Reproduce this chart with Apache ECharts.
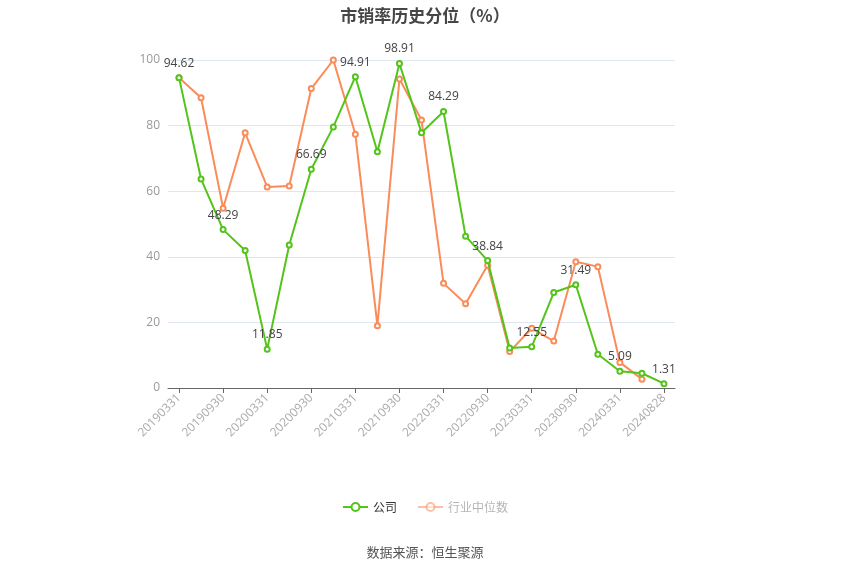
<!DOCTYPE html>
<html>
<head>
<meta charset="utf-8">
<script src="https://cdn.jsdelivr.net/npm/echarts@6/dist/echarts.min.js"></script>
<style>html,body{margin:0;padding:0;background:#fff}#c{width:850px;height:575px}</style>
</head>
<body>
<div id="c"></div>
<script>
var categories = ['20190331','20190630','20190930','20191231','20200331','20200630','20200930','20201231','20210331','20210630','20210930','20211231','20220331','20220630','20220930','20221231','20230331','20230630','20230930','20231231','20240331','20240630','20240828'];
var company = [94.62,63.7,48.29,41.9,11.85,43.6,66.69,79.6,94.91,72.0,98.91,77.8,84.29,46.3,38.84,12.2,12.55,29.1,31.49,10.3,5.09,4.5,1.31];
var industry = [94.6,88.5,54.8,77.8,61.3,61.6,91.3,100,77.4,19.0,94.2,81.7,31.9,25.7,37.4,11.1,18.2,14.3,38.5,37.0,7.8,2.7,null];
var labelIdx = [0,2,4,6,8,10,12,14,16,18,20,22];

var green = '#52c41a', orange = '#fa8c5a';
var compData = company.map(function(v,i){
  return labelIdx.indexOf(i) >= 0 ? {value:v, label:{show:true}} : {value:v};
});

var chart = echarts.init(document.getElementById('c'));
chart.setOption({
  animation:false,
  title:{text:'市销率历史分位（%）', left:'center', top:2,
    textStyle:{fontSize:17, fontWeight:'bold', color:'#464646', fontFamily:'Noto Sans CJK SC'}},
  grid:{left:168, right:175, top:60, bottom:187},
  legend:{bottom:57, left:'center', itemWidth:25, itemHeight:10, itemGap:20,
    textStyle:{fontSize:12, color:'#333', fontFamily:'Noto Sans CJK SC'},
    data:[{name:'公司'},
          {name:'行业中位数', itemStyle:{opacity:0.55}, lineStyle:{opacity:0.55}, textStyle:{color:'#b5b5b5'}}]},
  graphic:[{type:'text', left:'center', top:546,
    style:{text:'数据来源：恒生聚源', fontSize:13, fill:'#555', fontFamily:'Noto Sans CJK SC'}}],
  xAxis:{type:'category', data:categories, boundaryGap:true,
    axisLine:{lineStyle:{color:'#666'}},
    axisTick:{show:true, interval:1, alignWithLabel:true, lineStyle:{color:'#666'}},
    axisLabel:{interval:1, rotate:45, color:'#aaa', fontSize:12, fontFamily:'Open Sans'}},
  yAxis:{type:'value', min:0, max:100, interval:20,
    axisLine:{show:false}, axisTick:{show:false},
    splitLine:{lineStyle:{color:'#e0e6f1'}},
    axisLabel:{color:'#999', fontSize:12, fontFamily:'Open Sans'}},
  series:[
    {name:'公司', type:'line', data:compData, symbol:'emptyCircle', symbolSize:5,
     itemStyle:{color:green}, lineStyle:{width:2, color:green}, z:3,
     label:{show:false, position:'top', color:'#444', fontSize:12, fontFamily:'Open Sans'}},
    {name:'行业中位数', type:'line', data:industry, symbol:'emptyCircle', symbolSize:5,
     itemStyle:{color:orange}, lineStyle:{width:2, color:orange}, z:2}
  ]
});
</script>
</body>
</html>
